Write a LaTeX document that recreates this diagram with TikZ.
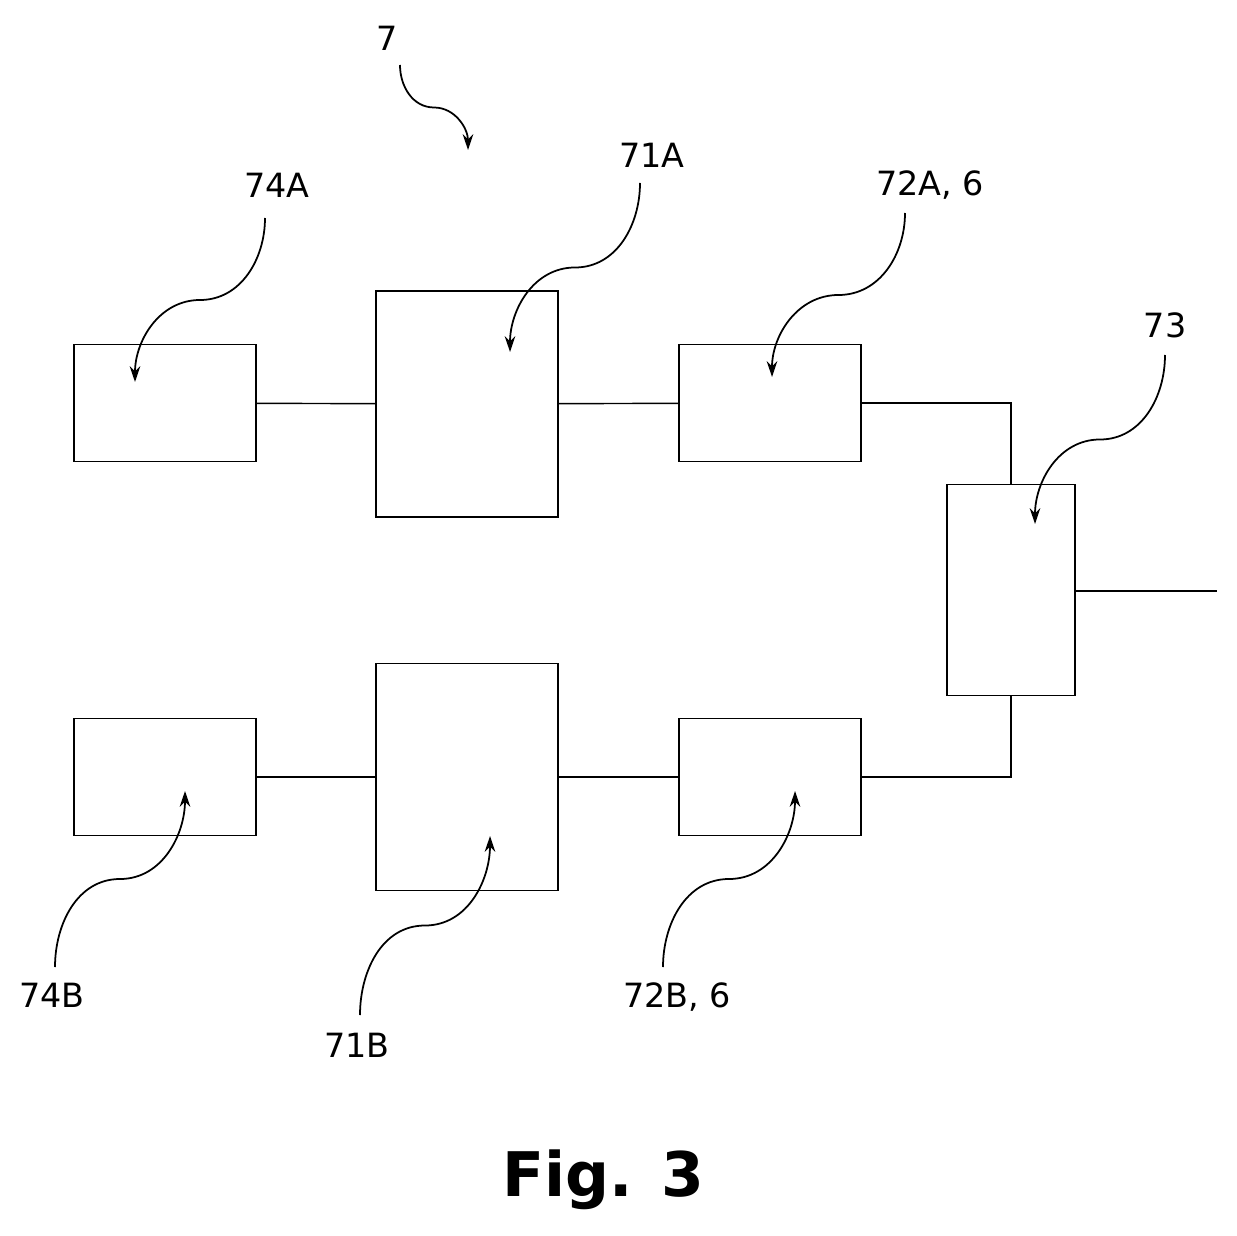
\documentclass[tikz,border=0pt]{standalone}
\usepackage{fontspec}
\setmainfont{DejaVu Sans}
\usetikzlibrary{calc,arrows.meta}
\begin{document}
\begin{tikzpicture}[x=0.02cm,y=-0.02cm,
    block/.style={draw, line width=0.8pt, inner sep=0pt},
    wire/.style={line width=0.8pt},
    lead/.style={-{Stealth[length=9pt,width=6pt]}, line width=1pt},
    ref/.style={font=\fontsize{19}{22}\selectfont}
]
    \useasboundingbox (0,0) rectangle (1237,1236);

    % Blocks
    \node[block, minimum width=3.64cm, minimum height=2.34cm] (b74A) at (165,403) {};
    \node[block, minimum width=3.64cm, minimum height=4.52cm] (b71A) at (467,404) {};
    \node[block, minimum width=3.64cm, minimum height=2.34cm] (b72A) at (770,403) {};
    \node[block, minimum width=2.56cm, minimum height=4.22cm] (b73) at (1011,590) {};
    \node[block, minimum width=3.64cm, minimum height=2.34cm] (b74B) at (165,777) {};
    \node[block, minimum width=3.64cm, minimum height=4.54cm] (b71B) at (467,777) {};
    \node[block, minimum width=3.64cm, minimum height=2.34cm] (b72B) at (770,777) {};
    \coordinate (out) at (1217,591);

    % Connections
    \draw[wire] (b74A) -- (b71A);
    \draw[wire] (b71A) -- (b72A);
    \draw[wire] (b72A.east) -| (b73.north);
    \draw[wire] (b74B) -- (b71B);
    \draw[wire] (b71B) -- (b72B);
    \draw[wire] (b72B.east) -| (b73.south);
    \draw[wire] (b73.east |- out) -- (out);

    % Reference numerals
    \node[ref] (l7) at (387,38) {7};
    \node[ref] (l74A) at (277,185) {74A};
    \node[ref] (l71A) at (652,155) {71A};
    \node[ref] (l72A) at (930,185) {72A, 6};
    \node[ref] (l73) at (1165,325) {73};
    \node[ref] (l74B) at (52,995) {74B};
    \node[ref] (l71B) at (357,1045) {71B};
    \node[ref] (l72B) at (677,997) {72B, 6};
    \node[font=\bfseries\fontsize{35}{40}\selectfont] (fig) at (603,1180) {Fig. 3};

    % Lead lines
    \coordinate (t7) at (468,150);
    \coordinate (t74A) at (135,382);
    \coordinate (t71A) at (510,352);
    \coordinate (t72A) at (772,377);
    \coordinate (t73) at (1035,524);
    \coordinate (t74B) at (185,791);
    \coordinate (t71B) at (490,836);
    \coordinate (t72B) at (795,791);
    \draw[lead] (400,65) to[out=-90,in=180] ($(400,65)!0.5!(t7)$) to[out=0,in=90] (t7);
    \draw[lead] (265,218) to[out=-90,in=0] ($(265,218)!0.5!(t74A)$) to[out=180,in=90] (t74A);
    \draw[lead] (640,183) to[out=-90,in=0] ($(640,183)!0.5!(t71A)$) to[out=180,in=90] (t71A);
    \draw[lead] (905,213) to[out=-90,in=0] ($(905,213)!0.5!(t72A)$) to[out=180,in=90] (t72A);
    \draw[lead] (1165,355) to[out=-90,in=0] ($(1165,355)!0.5!(t73)$) to[out=180,in=90] (t73);
    \draw[lead] (55,967) to[out=90,in=180] ($(55,967)!0.5!(t74B)$) to[out=0,in=-90] (t74B);
    \draw[lead] (360,1015) to[out=90,in=180] ($(360,1015)!0.5!(t71B)$) to[out=0,in=-90] (t71B);
    \draw[lead] (663,967) to[out=90,in=180] ($(663,967)!0.5!(t72B)$) to[out=0,in=-90] (t72B);
\end{tikzpicture}
\end{document}
